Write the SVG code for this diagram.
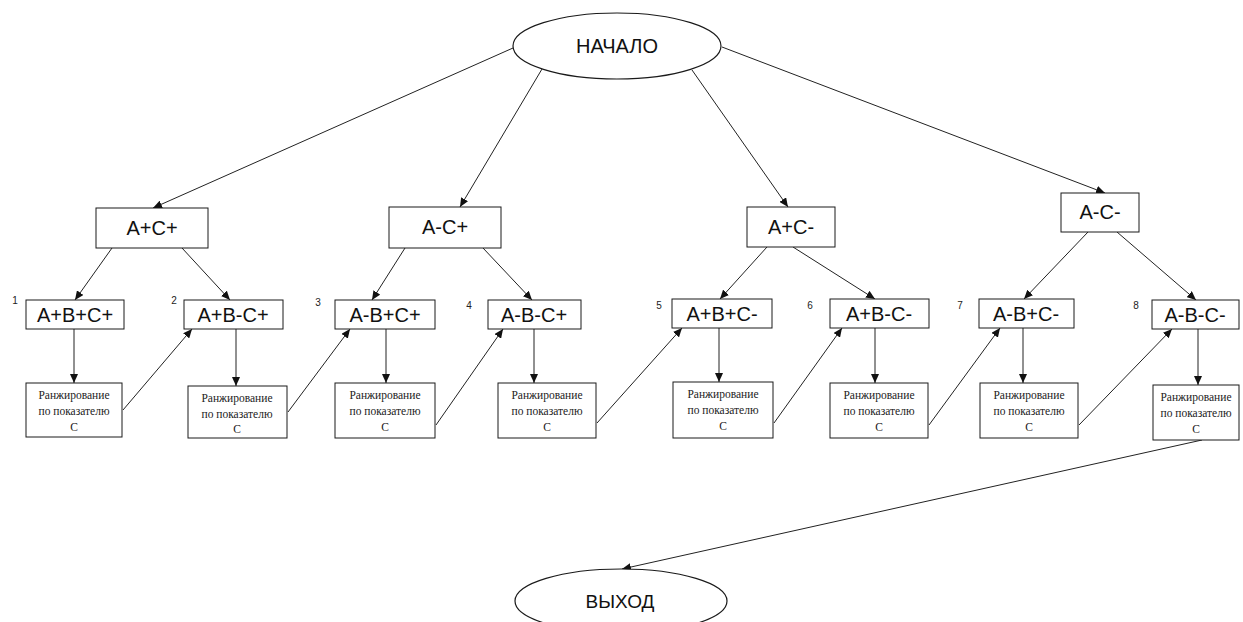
<svg xmlns="http://www.w3.org/2000/svg" width="1243" height="622" viewBox="0 0 1243 622">
<style>
.box{fill:#fff;stroke:#1a1a1a;stroke-width:1}
.ell{fill:#fff;stroke:#1a1a1a;stroke-width:1.2}
.big{font-family:"Liberation Sans",Arial,sans-serif;font-size:20px;fill:#111;text-anchor:middle}
.mid{font-family:"Liberation Sans",Arial,sans-serif;font-size:19px;fill:#111;text-anchor:middle}
.num{font-family:"Liberation Sans",Arial,sans-serif;font-size:10px;fill:#222;text-anchor:middle}
.rk{font-family:'Liberation Serif','DejaVu Serif','Times New Roman',serif;font-size:11.5px;fill:#222;text-anchor:middle}
.con line{stroke:#222;stroke-width:1;marker-end:url(#ah)}
</style>
<defs>
<marker id="ah" markerUnits="userSpaceOnUse" markerWidth="10" markerHeight="8" refX="9" refY="4" orient="auto">
<path d="M0,0 L9,4 L0,8 Z" fill="#111"/>
</marker>
</defs>
<rect width="1243" height="622" fill="#fff"/>
<g class="con">
<line x1="513" y1="48" x2="153" y2="208"/>
<line x1="542" y1="69" x2="460" y2="207"/>
<line x1="692" y1="70" x2="788" y2="207"/>
<line x1="722" y1="47" x2="1105" y2="193"/>
<line x1="112" y1="248" x2="75" y2="300"/>
<line x1="182" y1="248" x2="230" y2="300"/>
<line x1="405" y1="248" x2="372" y2="300"/>
<line x1="483" y1="248" x2="532" y2="300"/>
<line x1="767" y1="247" x2="720" y2="299"/>
<line x1="793" y1="247" x2="875" y2="299"/>
<line x1="1088" y1="232" x2="1024" y2="299"/>
<line x1="1117" y1="232" x2="1196" y2="300"/>
<line x1="74" y1="329" x2="74" y2="383"/>
<line x1="236" y1="329" x2="236" y2="386"/>
<line x1="386" y1="329" x2="386" y2="383"/>
<line x1="534" y1="329" x2="534" y2="383"/>
<line x1="719" y1="328" x2="719" y2="382"/>
<line x1="875" y1="328" x2="875" y2="383"/>
<line x1="1023" y1="328" x2="1023" y2="383"/>
<line x1="1198" y1="329" x2="1198" y2="385"/>
<line x1="123" y1="410" x2="192" y2="329"/>
<line x1="288" y1="412" x2="350" y2="329"/>
<line x1="436" y1="425" x2="503" y2="329"/>
<line x1="597" y1="423" x2="682" y2="328"/>
<line x1="774" y1="423" x2="842" y2="328"/>
<line x1="929" y1="425" x2="1000" y2="328"/>
<line x1="1079" y1="425" x2="1172" y2="329"/>
<line x1="1202" y1="440" x2="622" y2="569"/>
</g>
<g id="start"><ellipse class="ell" cx="617" cy="46" rx="104" ry="33"/><text class="big" x="617" y="53">НАЧАЛО</text></g>
<g id="exit"><ellipse class="ell" cx="621" cy="601" rx="106" ry="32"/><text class="mid" x="620" y="608">ВЫХОД</text></g>
<g id="n-apcp"><rect class="box" x="96" y="208" width="112" height="40"/><text class="big" x="152" y="235">A+C+</text></g>
<g id="n-amcp"><rect class="box" x="389" y="207" width="112" height="41"/><text class="big" x="445" y="234">A-C+</text></g>
<g id="n-apcm"><rect class="box" x="747" y="207" width="88" height="40"/><text class="big" x="791" y="234">A+C-</text></g>
<g id="n-amcm"><rect class="box" x="1061" y="193" width="78" height="39"/><text class="big" x="1100" y="219">A-C-</text></g>
<g id="n1"><text class="num" x="15" y="304">1</text><rect class="box" x="26" y="300" width="98" height="29"/><text class="big" x="75" y="322">A+B+C+</text></g>
<g id="n2"><text class="num" x="174" y="304">2</text><rect class="box" x="184" y="300" width="99" height="29"/><text class="big" x="233" y="322">A+B-C+</text></g>
<g id="n3"><text class="num" x="318" y="306">3</text><rect class="box" x="335" y="300" width="100" height="29"/><text class="big" x="385" y="322">A-B+C+</text></g>
<g id="n4"><text class="num" x="469" y="309">4</text><rect class="box" x="488" y="300" width="93" height="29"/><text class="big" x="534" y="322">A-B-C+</text></g>
<g id="n5"><text class="num" x="659" y="309">5</text><rect class="box" x="672" y="299" width="100" height="29"/><text class="big" x="722" y="321">A+B+C-</text></g>
<g id="n6"><text class="num" x="810" y="309">6</text><rect class="box" x="830" y="299" width="99" height="29"/><text class="big" x="879" y="321">A+B-C-</text></g>
<g id="n7"><text class="num" x="960" y="309">7</text><rect class="box" x="979" y="299" width="95" height="29"/><text class="big" x="1026" y="321">A-B+C-</text></g>
<g id="n8"><text class="num" x="1136" y="309">8</text><rect class="box" x="1152" y="300" width="87" height="29"/><text class="big" x="1195" y="322">A-B-C-</text></g>
<g id="r1"><rect class="box" x="26" y="383" width="96" height="54"/><text class="rk" x="74" y="399">Ранжирование</text><text class="rk" x="74" y="415">по показателю</text><text class="rk" x="74" y="431">С</text></g>
<g id="r2"><rect class="box" x="188" y="386" width="99" height="52"/><text class="rk" x="237" y="402">Ранжирование</text><text class="rk" x="237" y="418">по показателю</text><text class="rk" x="237" y="433">С</text></g>
<g id="r3"><rect class="box" x="335" y="383" width="100" height="55"/><text class="rk" x="385" y="399">Ранжирование</text><text class="rk" x="385" y="415">по показателю</text><text class="rk" x="385" y="431">С</text></g>
<g id="r4"><rect class="box" x="498" y="383" width="98" height="55"/><text class="rk" x="547" y="399">Ранжирование</text><text class="rk" x="547" y="415">по показателю</text><text class="rk" x="547" y="431">С</text></g>
<g id="r5"><rect class="box" x="673" y="382" width="100" height="56"/><text class="rk" x="723" y="398">Ранжирование</text><text class="rk" x="723" y="414">по показателю</text><text class="rk" x="723" y="430">С</text></g>
<g id="r6"><rect class="box" x="830" y="383" width="98" height="55"/><text class="rk" x="879" y="399">Ранжирование</text><text class="rk" x="879" y="415">по показателю</text><text class="rk" x="879" y="431">С</text></g>
<g id="r7"><rect class="box" x="980" y="383" width="98" height="55"/><text class="rk" x="1029" y="399">Ранжирование</text><text class="rk" x="1029" y="415">по показателю</text><text class="rk" x="1029" y="431">С</text></g>
<g id="r8"><rect class="box" x="1153" y="385" width="86" height="55"/><text class="rk" x="1196" y="401">Ранжирование</text><text class="rk" x="1196" y="417">по показателю</text><text class="rk" x="1196" y="433">С</text></g>
</svg>
